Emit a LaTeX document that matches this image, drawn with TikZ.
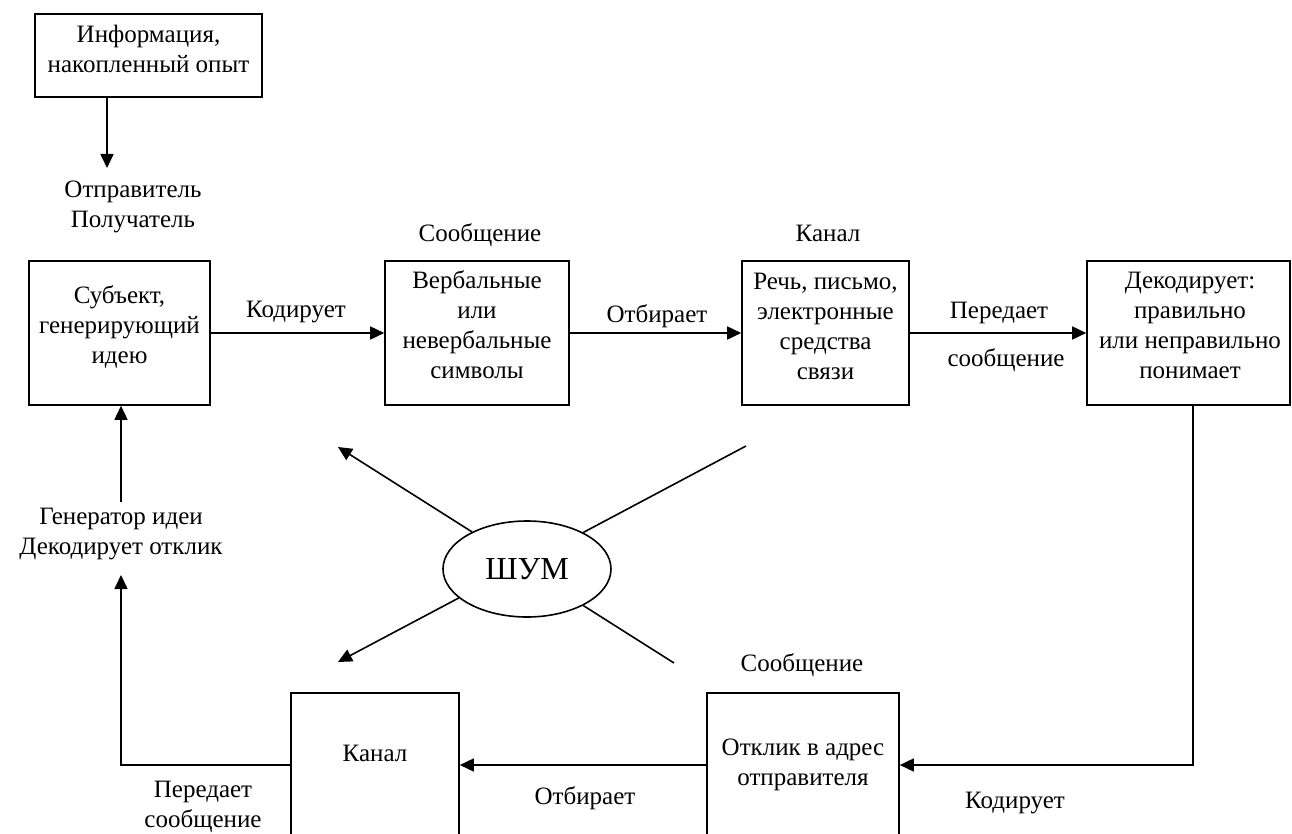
\documentclass[tikz,border=0pt]{standalone}
\usepackage{fontspec}
\setmainfont{Liberation Serif}
\usetikzlibrary{arrows.meta,shapes.geometric}
\begin{document}
\begin{tikzpicture}[x=1pt,y=-1pt,
  every node/.style={font=\fontsize{25}{30}\selectfont, align=center, inner sep=0pt},
  box/.style={draw, line width=1.6pt, rectangle},
  arr/.style={line width=1.6pt, -{Triangle[length=14pt,width=13pt]}},
  ln/.style={line width=1.6pt}]
\useasboundingbox (0,0) rectangle (1292,834);
% boxes
\node[box, minimum width=227pt, minimum height=83pt] (info) at (148.5,55.5) {};
\node (infot) at (148.5,49) {Информация,\\накопленный опыт};
\node[box, minimum width=181pt, minimum height=144pt] (A) at (119.5,333) {};
\node (At) at (119.5,327) {Субъект,\\генерирующий\\идею};
\node[box, minimum width=184pt, minimum height=144pt] (B) at (477,333) {};
\node (Bt) at (477,325) {Вербальные\\или\\невербальные\\символы};
\node[box, minimum width=167pt, minimum height=144pt] (C) at (825.5,333) {};
\node (Ct) at (825.5,326) {Речь, письмо,\\электронные\\средства\\связи};
\node[box, minimum width=203pt, minimum height=144pt] (D) at (1188.5,333) {};
\node (Dt) at (1190,325) {Декодирует:\\правильно\\или неправильно\\понимает};
\node[box, minimum width=168pt, minimum height=157pt] (K) at (375,771.5) {};
\node (Kt) at (375,753) {Канал};
\node[box, minimum width=192pt, minimum height=157pt] (R) at (803,771.5) {};
\node (Rt) at (803,765) {Отклик в адрес\\отправителя};
% labels
\node (sender) at (133,207) {Отправитель\\Получатель};
\node (msg1) at (480,235) {Сообщение};
\node (chan1) at (828,233) {Канал};
\node (enc1) at (296,312) {Кодирует};
\node (sel1) at (657,316) {Отбирает};
\node (tr1) at (999,313) {Передает};
\node (tr1b) at (1006,360) {сообщение};
\node (gen) at (121,534) {Генератор идеи\\Декодирует отклик};
\node (tr2) at (203,807) {Передает\\сообщение};
\node (sel2) at (585,798) {Отбирает};
\node (enc2) at (1015,803) {Кодирует};
\node (msg2) at (802,665) {Сообщение};
% noise
\node[draw, ellipse, line width=1.6pt, minimum width=168pt, minimum height=96pt, font=\fontsize{32}{36}\selectfont] (shum) at (527,569) {ШУМ};
\coordinate (nw) at (338,447);
\coordinate (ne) at (746,446);
\coordinate (sw) at (338,662);
\coordinate (se) at (674,663);
\draw[arr] (shum.146) -- (nw);
\draw[ln] (shum.33.5) -- (ne);
\draw[arr] (shum.203) -- (sw);
\draw[ln] (shum.327) -- (se);
% connectors
\coordinate (t1) at (107,168);
\draw[arr] (info.south -| t1) -- (t1);
\draw[arr] (A) -- (B);
\draw[arr] (B) -- (C);
\draw[arr] (C) -- (D);
\coordinate (dk) at (1193,765);
\draw[arr] (D.south -| dk) -- (dk) -- (R.east |- dk);
\draw[arr] (R.west |- dk) -- (K.east |- dk);
\coordinate (gl) at (121,765);
\coordinate (gt) at (121,575);
\draw[arr] (K.west |- gl) -- (gl) -- (gt);
\coordinate (gb) at (121,502);
\draw[arr] (gb) -- (A.south -| gb);
\end{tikzpicture}
\end{document}
